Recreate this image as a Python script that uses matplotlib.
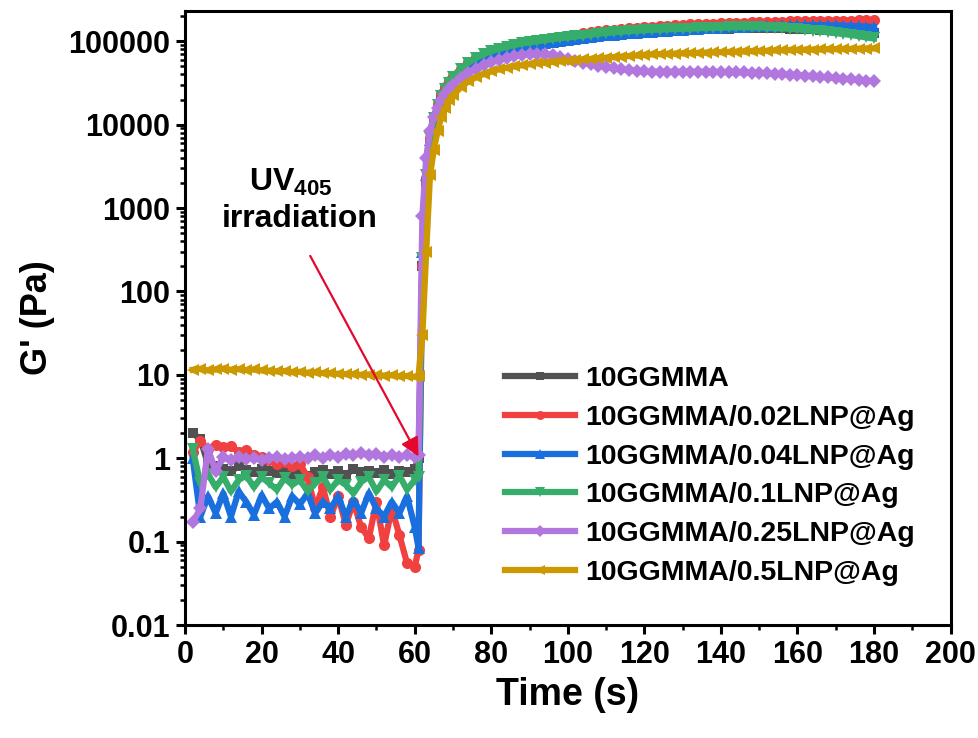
import numpy as np
import matplotlib
matplotlib.use("Agg")
import matplotlib.pyplot as plt
from matplotlib.ticker import FixedLocator, FuncFormatter, LogLocator, NullFormatter, MultipleLocator

plt.rcParams['font.family'] = ['Liberation Sans', 'DejaVu Sans']
plt.rcParams['font.weight'] = 'bold'
plt.rcParams['mathtext.fontset'] = 'custom'
plt.rcParams['mathtext.rm'] = 'Liberation Sans:bold'
plt.rcParams['mathtext.bf'] = 'Liberation Sans:bold'
plt.rcParams['mathtext.it'] = 'Liberation Sans:bold:italic'

# sampling times (s): before UV, last dark point, the rise, then the plateau
time_s = np.concatenate([np.arange(2, 61, 2), [61], np.arange(62, 71), np.arange(72, 181, 2)])

labels = ["10GGMMA", "10GGMMA/0.02LNP@Ag", "10GGMMA/0.04LNP@Ag",
          "10GGMMA/0.1LNP@Ag", "10GGMMA/0.25LNP@Ag", "10GGMMA/0.5LNP@Ag"]

g_10ggmma = [2.0, 1.7, 0.85, 0.8, 0.75, 0.7, 0.8, 0.72, 0.68, 0.75, 0.7, 0.66, 0.72, 0.65, 0.7,
             0.62, 0.68, 0.72, 0.65, 0.7, 0.63, 0.74, 0.68, 0.7, 0.66, 0.73, 0.65, 0.7, 0.68, 0.75,
             1.0,
             200, 2000, 6000, 10500, 15000, 19500, 24000, 28500, 32500,
             40000, 48000, 55000, 61000, 67000, 72000, 76000, 80000, 84000, 87000, 90000, 93000,
             96000, 99000, 102000, 105000, 108000, 111000, 114000, 116000, 118000, 120000, 122000,
             124000, 126000, 128000, 130000, 132000, 133500, 135000, 136500, 138000, 139000, 140000,
             141000, 142000, 142500, 143000, 143500, 144000, 144000, 143500, 143000, 142000, 141000,
             140000, 139000, 137500, 136000, 134500, 133000, 131500, 130000, 128500, 127000]

g_002 = [1.2, 1.6, 1.3, 1.45, 1.35, 1.4, 1.2, 1.25, 1.1, 1.05, 0.95, 0.85, 0.9, 0.8, 0.85,
         0.6, 0.25, 0.45, 0.2, 0.35, 0.16, 0.3, 0.15, 0.11, 0.3, 0.09, 0.25, 0.12, 0.055, 0.05,
         0.08,
         200, 2300, 7000, 12500, 17500, 23000, 28000, 33000, 38000,
         47000, 56000, 64000, 71000, 77000, 83000, 88000, 92000, 96000, 100000, 103000, 106000,
         110000, 113000, 116000, 120000, 124000, 128000, 132000, 135000, 138000, 141000, 144000,
         146000, 148000, 150000, 152000, 154000, 156000, 158000, 159000, 161000, 162000, 163000,
         164000, 165000, 166000, 167000, 168000, 169000, 170000, 171000, 172000, 173000, 174000,
         174500, 175000, 175500, 176000, 176500, 177000, 177000, 177500, 178000, 178000]

g_004 = [1.0, 0.2, 0.35, 0.22, 0.38, 0.2, 0.4, 0.3, 0.21, 0.36, 0.25, 0.3, 0.2, 0.35, 0.28,
         0.38, 0.22, 0.3, 0.25, 0.35, 0.2, 0.32, 0.22, 0.38, 0.25, 0.2, 0.3, 0.22, 0.35, 0.15,
         0.085,
         300, 2500, 6500, 11000, 15500, 20000, 24500, 29000, 33000,
         41000, 49000, 56000, 62000, 68000, 73000, 77000, 81000, 85000, 88000, 91000, 94000,
         97000, 100000, 103000, 106000, 109000, 112000, 115000, 118000, 120000, 122000, 124000,
         126000, 128000, 130000, 132000, 134000, 136000, 138000, 140000, 141500, 143000, 144500,
         146000, 147500, 149000, 150000, 151000, 152000, 153000, 154000, 155000, 155500, 156000,
         156000, 156000, 155500, 155000, 154500, 153500, 152500, 151000, 149500, 148000]

g_01 = [1.3, 0.5, 0.65, 0.45, 0.6, 0.4, 0.55, 0.62, 0.45, 0.6, 0.5, 0.42, 0.58, 0.48, 0.55,
        0.4, 0.5, 0.6, 0.42, 0.55, 0.48, 0.38, 0.52, 0.6, 0.4, 0.55, 0.45, 0.62, 0.42, 0.55,
        0.6,
        250, 2500, 7000, 12000, 17000, 22000, 27000, 32000, 37000,
        46000, 55000, 63000, 70000, 76000, 81000, 86000, 90000, 94000, 97000, 100000, 103000,
        106000, 109000, 111000, 114000, 117000, 120000, 123000, 126000, 128000, 130000, 132000,
        134000, 136000, 137000, 138000, 139000, 140000, 141000, 142000, 143000, 144000, 145000,
        146000, 146500, 147000, 147000, 147000, 147000, 146000, 145000, 143000, 141000, 139000,
        136000, 134000, 131000, 128000, 125000, 122000, 119000, 115000, 111000, 108000]

g_025 = [0.17, 0.25, 1.3, 0.7, 1.05, 0.95, 1.05, 0.98, 1.02, 0.95, 1.0, 1.05, 0.97, 1.0, 1.05,
         1.0, 1.08, 1.02, 1.1, 1.05, 1.12, 1.08, 1.15, 1.1, 1.12, 1.05, 1.1, 1.05, 1.08, 1.05,
         1.1,
         800, 4000, 8500, 12500, 16000, 19500, 23000, 26500, 30000,
         36000, 42000, 47000, 52000, 56000, 60000, 63000, 66000, 68500, 70000, 70500, 69500,
         67500, 64500, 61000, 58000, 55500, 53000, 51000, 49000, 47500, 46000, 45000, 44000,
         43500, 43000, 43000, 43000, 43000, 43000, 43000, 43000, 43000, 43000, 42800, 42600,
         42400, 42200, 42000, 41700, 41300, 40800, 40300, 39800, 39200, 38600, 38000, 37400,
         36800, 36200, 35600, 35000, 34400, 33800, 33000]

g_05 = [11.5, 11.8, 11.3, 11.6, 11.9, 11.5, 11.7, 11.4, 11.6, 11.3, 11.2, 11.0, 11.1, 10.8, 10.9,
        10.6, 10.7, 10.5, 10.4, 10.3, 10.2, 10.2, 10.0, 10.1, 9.9, 9.8, 9.9, 9.6, 9.7, 9.5,
        9.6,
        30, 300, 2500, 5000, 8500, 12500, 16000, 19500, 22500,
        28000, 33000, 37000, 40500, 43500, 46000, 48000, 50000, 51500, 53000, 54500, 55500,
        56500, 57500, 58500, 59500, 60500, 61500, 62500, 63500, 64500, 65500, 66500, 67500,
        68500, 69500, 70000, 70500, 71000, 71500, 72000, 72500, 73000, 73500, 74000, 74500,
        75000, 75500, 76000, 76500, 77000, 77500, 78000, 78500, 79000, 79300, 79600, 79900,
        80200, 80500, 80800, 81100, 81400, 81700, 82000]

series = [g_10ggmma, g_002, g_004, g_01, g_025, g_05]
colors = ["#515151", "#F14040", "#1A6FDF", "#37AD6B", "#B177DE", "#CC9900"]
markers = ["s", "o", "^", "v", "D", "<"]
msizes = [7.5, 8, 8.5, 8.5, 7.5, 8.5]

fig = plt.figure(figsize=(9.79, 7.38), dpi=100)
ax = fig.add_axes([0.189, 0.153, 0.782, 0.832])

for vals, c, m, s, lab in zip(series, colors, markers, msizes, labels):
    ax.plot(time_s, vals, color=c, marker=m, markersize=s, linewidth=4.5,
            markeredgewidth=0, label=lab)

ax.set_yscale("log")
ax.set_xlim(0, 200)
ax.set_ylim(0.01, 2.3e5)

ax.xaxis.set_major_locator(MultipleLocator(20))
ax.xaxis.set_minor_locator(MultipleLocator(10))
ax.yaxis.set_major_locator(FixedLocator([0.01, 0.1, 1, 10, 100, 1000, 10000, 100000]))
ax.yaxis.set_minor_locator(LogLocator(base=10, subs=np.arange(2, 10), numticks=20))
ax.yaxis.set_minor_formatter(NullFormatter())


def ylab(v, pos):
    return f"{int(round(v))}" if v >= 1 else f"{v:g}"


ax.yaxis.set_major_formatter(FuncFormatter(ylab))

for sp in ax.spines.values():
    sp.set_linewidth(2.2)
ax.tick_params(axis="both", which="major", direction="out", length=6.5, width=2.2,
               labelsize=22, pad=4)
ax.tick_params(axis="both", which="minor", direction="out", length=3.5, width=1.8)
ax.tick_params(top=False, right=False, which="both")
for t in ax.get_xticklabels() + ax.get_yticklabels():
    t.set_fontweight("bold")

ax.set_xlabel("Time (s)", fontsize=27, fontweight="bold", labelpad=5)
ax.set_ylabel("G' (Pa)", fontsize=26, fontweight="bold", labelpad=10)

ax.text(27.5, 2000, r"UV$_{405}$", fontsize=23, fontweight="bold", ha="center", va="center")
ax.text(30, 740, "irradiation", fontsize=23, fontweight="bold", ha="center", va="center")
ax.annotate("", xy=(61.0, 1.05), xytext=(32.7, 267),
            arrowprops=dict(arrowstyle="-|>", color="#E4082E", lw=1.6, mutation_scale=28,
                            shrinkA=0, shrinkB=0))

leg = ax.legend(loc="upper left", bbox_to_anchor=(0.418, 0.422), frameon=False,
                fontsize=20.5, handlelength=2.45, handletextpad=0.35, labelspacing=0.45,
                borderpad=0, borderaxespad=0, markerscale=0.8)
for t in leg.get_texts():
    t.set_fontweight("bold")

fig.savefig("out.png", dpi=100)
